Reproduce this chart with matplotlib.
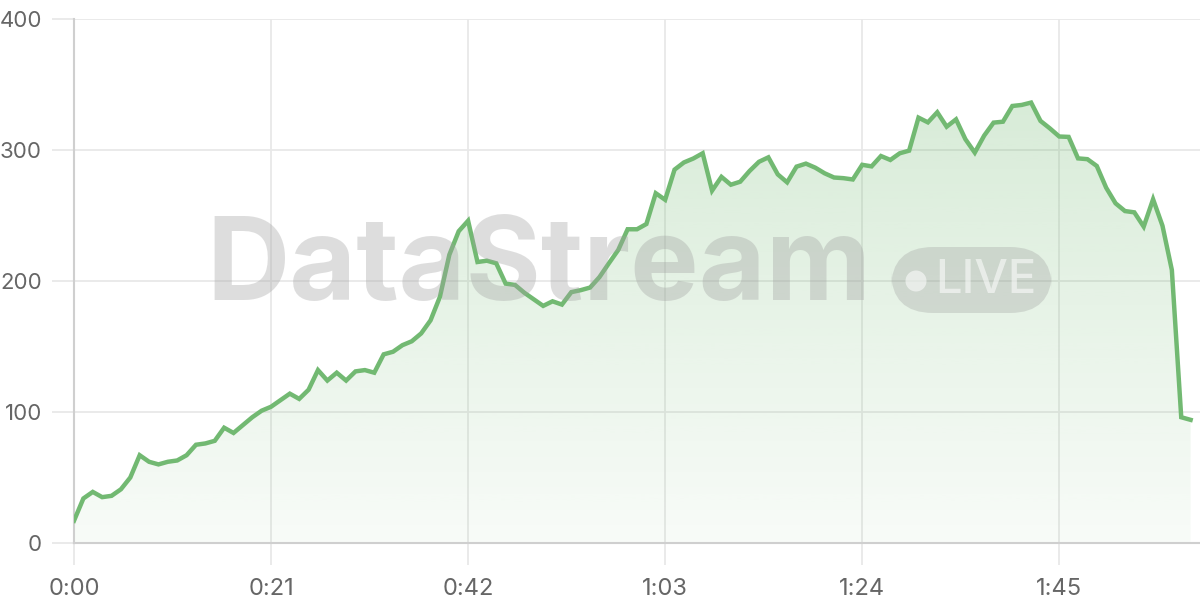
import numpy as np
import matplotlib
matplotlib.use('Agg')
import matplotlib.pyplot as plt
from matplotlib.patches import FancyBboxPatch, Ellipse
from matplotlib.colors import to_rgb

# ── DATA ─────────────────────────────────────────────────────────────────────
values = [
    17, 34, 39, 35, 36, 41, 50, 67, 62, 60,
    62, 63, 67, 75, 76, 78, 88, 84, 90, 96,
    101, 104, 109, 114, 110, 117, 132, 124, 130, 124,
    131, 132, 130, 144, 146, 151, 154, 160, 170, 188,
    220, 238, 246, 214.5, 215.5, 213.5, 198, 197, 191, 186,
    181, 184.5, 182, 191.5, 193, 195, 203, 213.5, 223.7, 239.5,
    239.5, 243.5, 267, 262, 285, 290.5, 293.5, 297.5, 269, 279.5,
    273.5, 275.8, 284, 291, 294.4, 281.4, 275.3, 287.3, 289.6, 286.5,
    282.2, 279, 278.5, 277.5, 288.7, 287.5, 295.4, 292.4, 297.5, 299.5,
    324.7, 321.1, 328.8, 317.8, 323.4, 308.2, 298, 311, 320.9, 321.6,
    333.6, 334.4, 336.2, 322.2, 316.5, 310.3, 310, 293.6, 293, 287.8,
    271.2, 259.3, 253.4, 252.4, 241.5, 262.4, 242.2, 208.4, 96, 94,
]
seconds = list(range(len(values)))
x_ticks = [0, 21, 42, 63, 84, 105]
x_tick_labels = ['0:00', '0:21', '0:42', '1:03', '1:24', '1:45']
y_ticks = [0, 100, 200, 300, 400]

# ── STYLE ────────────────────────────────────────────────────────────────────
LINE = '#72b972'
GRID = '#e8e8e8'
AXIS = '#cfcfcf'
TEXT = '#666666'
plt.rcParams['font.family'] = ['Inter', 'DejaVu Sans']

fig = plt.figure(figsize=(12, 6), dpi=100)
fig.patch.set_facecolor('white')
ax = fig.add_axes([74 / 1200, 57 / 600, 1126 / 1200, 524 / 600])
ax.set_facecolor('white')

x = np.array(seconds)
y = np.array(values)

# gradient fill under the line
rgb = to_rgb(LINE)
grad = np.zeros((256, 1, 4))
grad[:, 0, :3] = rgb
grad[:, 0, 3] = np.linspace(0.32, 0.05, 256)
poly = ax.fill_between(x, y, 0, color='none', lw=0)
img = ax.imshow(grad, extent=[0, x[-1], 0, 400], aspect='auto',
                origin='upper', zorder=1)
img.set_clip_path(poly.get_paths()[0], transform=ax.transData)

ax.plot(x, y, color=LINE, lw=3.2, zorder=4, solid_joinstyle='miter')

ax.set_xlim(0, 120)
ax.set_ylim(0, 400)
ax.set_xticks(x_ticks)
ax.set_xticklabels(x_tick_labels)
ax.set_yticks(y_ticks)
ax.grid(True, color=GRID, lw=1.3, zorder=0)
ax.set_axisbelow(True)
ax.tick_params(axis='both', length=16, width=1.3, color=GRID,
               labelcolor=TEXT)
ax.tick_params(axis='y', pad=7, labelsize=16)
ax.tick_params(axis='x', pad=9, labelsize=17)
for s in ['top', 'right']:
    ax.spines[s].set_visible(False)
ax.spines['left'].set_color(AXIS)
ax.spines['bottom'].set_color(AXIS)
ax.spines['left'].set_linewidth(1.5)
ax.spines['bottom'].set_linewidth(1.5)

# watermark
fig.text(539 / 1200, 1 - 270 / 600, 'DataStream', ha='center', va='center',
         fontsize=83, fontweight='bold', color='#a0a0a0', alpha=0.35,
         zorder=3)
pill = FancyBboxPatch((891 / 1200, 1 - 313 / 600), 161 / 1200, 66 / 600,
                      boxstyle='round,pad=0,rounding_size=0.035',
                      transform=fig.transFigure, facecolor='#9a9a9a',
                      edgecolor='none', alpha=0.3, zorder=3,
                      mutation_aspect=2)
fig.patches.append(pill)
fig.patches.append(Ellipse((916 / 1200, 1 - 281 / 600), 21 / 1200, 21 / 600,
                           transform=fig.transFigure, facecolor='white',
                           edgecolor='none', alpha=0.55, zorder=3))
fig.text(986 / 1200, 1 - 281 / 600, 'LIVE', ha='center', va='center',
         fontsize=34, fontweight='medium', color='white', alpha=0.55, zorder=3)

fig.savefig('out.png', dpi=100, facecolor='white')
